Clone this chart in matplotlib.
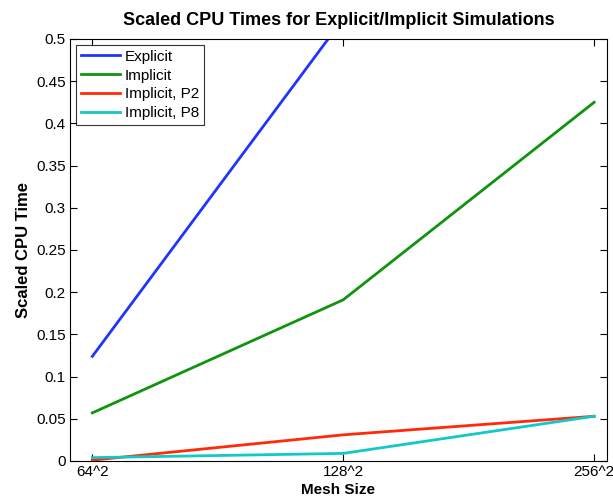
import matplotlib
matplotlib.use("Agg")
import matplotlib.pyplot as plt

plt.rcParams['font.family'] = ['Liberation Sans', 'DejaVu Sans']

categories = ["64^2", "128^2", "256^2"]
explicit = [0.124, 0.524, 2.0]
implicit = [0.057, 0.191, 0.425]
implicit_p2 = [0.001, 0.031, 0.053]
implicit_p8 = [0.004, 0.009, 0.053]

x = [1, 2, 3]

fig = plt.figure(figsize=(6.13, 4.98), dpi=100)
ax = fig.add_axes([0.1142, 0.0743, 0.8755, 0.8474])

lw = 2.0
ax.plot(x, explicit, color='#1f35ff', lw=lw, label='Explicit')
ax.plot(x, implicit, color='#109410', lw=lw, label='Implicit')
ax.plot(x, implicit_p2, color='#ff2a0a', lw=lw, label='Implicit, P2')
ax.plot(x, implicit_p8, color='#12c8c8', lw=lw, label='Implicit, P8')

ax.set_xlim(0.911, 3.05)
ax.set_ylim(0, 0.5)
ax.set_xticks(x)
ax.set_xticklabels(categories)
ax.set_yticks([0, 0.05, 0.1, 0.15, 0.2, 0.25, 0.3, 0.35, 0.4, 0.45, 0.5])
ax.set_yticklabels(['0', '0.05', '0.1', '0.15', '0.2', '0.25', '0.3', '0.35', '0.4', '0.45', '0.5'])
ax.tick_params(direction='in', top=True, right=True, labelsize=11, length=5, width=0.8, pad=3)
for s in ax.spines.values():
    s.set_linewidth(0.8)

ax.set_title('Scaled CPU Times for Explicit/Implicit Simulations', fontsize=13, fontweight='bold', pad=10)
ax.set_xlabel('Mesh Size', fontsize=11, fontweight='bold', labelpad=3)
ax.set_ylabel('Scaled CPU Time', fontsize=12, fontweight='bold', labelpad=4)

leg = ax.legend(loc='upper left', fontsize=11, frameon=True, fancybox=False,
                edgecolor='black', handlelength=2.6, handletextpad=0.3,
                borderpad=0.3, labelspacing=0.32, borderaxespad=0.4)
leg.get_frame().set_linewidth(0.8)

fig.savefig('out.png', dpi=100)
